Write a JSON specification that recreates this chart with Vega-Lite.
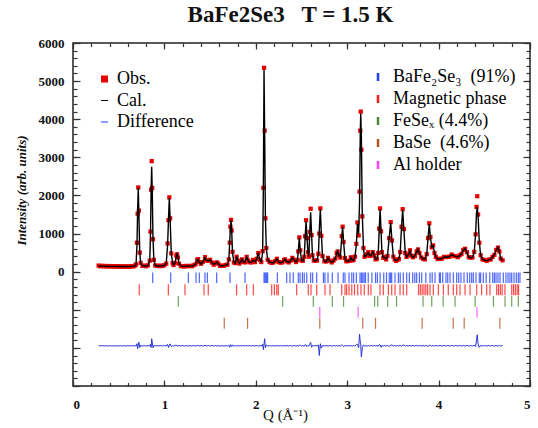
{
"$schema": "https://vega.github.io/schema/vega-lite/v6.json",
"width": 457, "height": 343,
"autosize": {"type": "none"},
"padding": {"left": 73, "top": 43, "right": 8, "bottom": 42},
"background": "white",
"config": {
  "view": {"stroke": "#222", "strokeWidth": 1.5},
  "axis": {"grid": false, "domain": false, "tickColor": "#333", "tickWidth": 1.2, "labelFont": "Liberation Serif, Times New Roman, Times, serif", "labelFontWeight": "bold", "labelFontSize": 13, "labelColor": "#111", "titleColor": "#111"},
  "legend": {"labelFont": "Liberation Serif, Times New Roman, Times, serif", "labelFontSize": 18, "labelColor": "#000", "padding": 0, "title": null}
},
"title": {"text": "BaFe2Se3\u00a0\u00a0 T = 1.5 K", "font": "Liberation Serif, Times New Roman, Times, serif", "fontSize": 23, "fontWeight": "bold", "color": "#111", "anchor": "middle", "baseline": "alphabetic", "offset": 10, "dy": 18, "dx": -11},
"datasets": {
"pattern": [
{"q":0.28,"cal":150,"obs":160,"diff":-1940},{"q":0.30,"cal":148,"obs":140,"diff":-1948},{"q":0.32,"cal":146,"obs":155,"diff":-1938},{"q":0.34,"cal":145,"obs":138,"diff":-1950},{"q":0.36,"cal":143,"obs":150,"diff":-1942},{"q":0.38,"cal":142,"obs":135,"diff":-1952},{"q":0.40,"cal":140,"obs":148,"diff":-1940},{"q":0.42,"cal":140,"obs":132,"diff":-1950},{"q":0.44,"cal":139,"obs":146,"diff":-1944},{"q":0.46,"cal":138,"obs":130,"diff":-1952},{"q":0.48,"cal":138,"obs":145,"diff":-1942},{"q":0.50,"cal":137,"obs":131,"diff":-1950},{"q":0.52,"cal":136,"obs":143,"diff":-1940},{"q":0.54,"cal":136,"obs":128,"diff":-1953},{"q":0.56,"cal":135,"obs":142,"diff":-1943},{"q":0.58,"cal":135,"obs":130,"diff":-1950},{"q":0.60,"cal":135,"obs":141,"diff":-1941},{"q":0.62,"cal":136,"obs":129,"diff":-1951},{"q":0.64,"cal":138,"obs":145,"diff":-1942},{"q":0.66,"cal":142,"obs":136,"diff":-1950},{"q":0.68,"cal":150,"obs":160,"diff":-1938},{"q":0.69,"cal":200,"obs":190,"diff":-1955},{"q":0.70,"cal":700,"obs":760,"diff":-1890},{"q":0.707,"cal":1600,"obs":1520,"diff":-2020},{"q":0.714,"cal":2200,"obs":2210,"diff":-1935},{"q":0.721,"cal":1500,"obs":1600,"diff":-1850},{"q":0.73,"cal":550,"obs":500,"diff":-1990},{"q":0.74,"cal":220,"obs":230,"diff":-1935},{"q":0.76,"cal":160,"obs":152,"diff":-1950},{"q":0.78,"cal":150,"obs":158,"diff":-1940},{"q":0.80,"cal":150,"obs":143,"diff":-1952},{"q":0.82,"cal":160,"obs":168,"diff":-1938},{"q":0.84,"cal":300,"obs":290,"diff":-1955},{"q":0.848,"cal":1000,"obs":1050,"diff":-1900},{"q":0.855,"cal":2200,"obs":2150,"diff":-1990},{"q":0.861,"cal":2750,"obs":2900,"diff":-1760},{"q":0.867,"cal":2100,"obs":2200,"diff":-1850},{"q":0.875,"cal":900,"obs":850,"diff":-1995},{"q":0.885,"cal":300,"obs":310,"diff":-1935},{"q":0.90,"cal":170,"obs":162,"diff":-1950},{"q":0.92,"cal":150,"obs":157,"diff":-1940},{"q":0.94,"cal":150,"obs":144,"diff":-1950},{"q":0.96,"cal":150,"obs":158,"diff":-1938},{"q":0.98,"cal":155,"obs":149,"diff":-1950},{"q":1.00,"cal":165,"obs":172,"diff":-1940},{"q":1.02,"cal":220,"obs":212,"diff":-1952},{"q":1.035,"cal":700,"obs":740,"diff":-1905},{"q":1.045,"cal":1400,"obs":1350,"diff":-1990},{"q":1.054,"cal":1930,"obs":1950,"diff":-1925},{"q":1.063,"cal":1350,"obs":1400,"diff":-1895},{"q":1.075,"cal":500,"obs":480,"diff":-1965},{"q":1.09,"cal":220,"obs":226,"diff":-1940},{"q":1.10,"cal":180,"obs":174,"diff":-1950},{"q":1.115,"cal":220,"obs":228,"diff":-1938},{"q":1.13,"cal":400,"obs":420,"diff":-1925},{"q":1.138,"cal":460,"obs":455,"diff":-1950},{"q":1.148,"cal":380,"obs":372,"diff":-1952},{"q":1.16,"cal":200,"obs":208,"diff":-1938},{"q":1.18,"cal":150,"obs":144,"diff":-1950},{"q":1.20,"cal":140,"obs":147,"diff":-1940},{"q":1.22,"cal":140,"obs":133,"diff":-1952},{"q":1.24,"cal":145,"obs":152,"diff":-1940},{"q":1.26,"cal":150,"obs":144,"diff":-1950},{"q":1.28,"cal":145,"obs":152,"diff":-1940},{"q":1.30,"cal":150,"obs":143,"diff":-1952},{"q":1.32,"cal":160,"obs":168,"diff":-1938},{"q":1.34,"cal":200,"obs":193,"diff":-1952},{"q":1.36,"cal":300,"obs":310,"diff":-1935},{"q":1.368,"cal":320,"obs":328,"diff":-1938},{"q":1.38,"cal":260,"obs":252,"diff":-1952},{"q":1.40,"cal":200,"obs":208,"diff":-1938},{"q":1.42,"cal":260,"obs":252,"diff":-1952},{"q":1.444,"cal":370,"obs":380,"diff":-1935},{"q":1.46,"cal":300,"obs":292,"diff":-1952},{"q":1.48,"cal":280,"obs":288,"diff":-1938},{"q":1.50,"cal":320,"obs":312,"diff":-1952},{"q":1.52,"cal":230,"obs":238,"diff":-1938},{"q":1.54,"cal":190,"obs":183,"diff":-1952},{"q":1.56,"cal":220,"obs":228,"diff":-1938},{"q":1.575,"cal":250,"obs":243,"diff":-1952},{"q":1.59,"cal":200,"obs":207,"diff":-1940},{"q":1.61,"cal":160,"obs":153,"diff":-1952},{"q":1.63,"cal":150,"obs":157,"diff":-1940},{"q":1.65,"cal":160,"obs":153,"diff":-1952},{"q":1.67,"cal":170,"obs":177,"diff":-1940},{"q":1.69,"cal":190,"obs":184,"diff":-1950},{"q":1.705,"cal":300,"obs":320,"diff":-1928},{"q":1.715,"cal":800,"obs":760,"diff":-1985},{"q":1.722,"cal":1150,"obs":1180,"diff":-1915},{"q":1.729,"cal":1340,"obs":1360,"diff":-1925},{"q":1.736,"cal":1100,"obs":1080,"diff":-1965},{"q":1.745,"cal":500,"obs":520,"diff":-1925},{"q":1.76,"cal":250,"obs":243,"diff":-1952},{"q":1.775,"cal":220,"obs":227,"diff":-1940},{"q":1.79,"cal":400,"obs":392,"diff":-1952},{"q":1.805,"cal":280,"obs":288,"diff":-1938},{"q":1.82,"cal":220,"obs":213,"diff":-1952},{"q":1.835,"cal":260,"obs":267,"diff":-1940},{"q":1.85,"cal":330,"obs":322,"diff":-1952},{"q":1.865,"cal":250,"obs":258,"diff":-1938},{"q":1.88,"cal":250,"obs":243,"diff":-1952},{"q":1.90,"cal":380,"obs":388,"diff":-1938},{"q":1.915,"cal":300,"obs":292,"diff":-1952},{"q":1.93,"cal":240,"obs":248,"diff":-1938},{"q":1.95,"cal":250,"obs":243,"diff":-1952},{"q":1.97,"cal":300,"obs":308,"diff":-1938},{"q":1.99,"cal":260,"obs":252,"diff":-1952},{"q":2.01,"cal":330,"obs":338,"diff":-1938},{"q":2.027,"cal":500,"obs":490,"diff":-1955},{"q":2.045,"cal":300,"obs":308,"diff":-1938},{"q":2.06,"cal":260,"obs":252,"diff":-1952},{"q":2.075,"cal":500,"obs":540,"diff":-1905},{"q":2.083,"cal":2300,"obs":2200,"diff":-2045},{"q":2.09,"cal":5300,"obs":5350,"diff":-1895},{"q":2.097,"cal":3600,"obs":3700,"diff":-1760},{"q":2.105,"cal":1450,"obs":1400,"diff":-1995},{"q":2.115,"cal":600,"obs":620,"diff":-1925},{"q":2.13,"cal":320,"obs":312,"diff":-1952},{"q":2.15,"cal":250,"obs":258,"diff":-1938},{"q":2.17,"cal":240,"obs":232,"diff":-1952},{"q":2.19,"cal":230,"obs":238,"diff":-1940},{"q":2.21,"cal":280,"obs":272,"diff":-1952},{"q":2.23,"cal":330,"obs":338,"diff":-1938},{"q":2.25,"cal":260,"obs":252,"diff":-1952},{"q":2.27,"cal":230,"obs":238,"diff":-1940},{"q":2.29,"cal":250,"obs":243,"diff":-1952},{"q":2.31,"cal":300,"obs":308,"diff":-1938},{"q":2.32,"cal":330,"obs":322,"diff":-1952},{"q":2.34,"cal":260,"obs":268,"diff":-1938},{"q":2.36,"cal":250,"obs":243,"diff":-1952},{"q":2.38,"cal":280,"obs":287,"diff":-1938},{"q":2.40,"cal":370,"obs":362,"diff":-1952},{"q":2.42,"cal":300,"obs":308,"diff":-1938},{"q":2.44,"cal":260,"obs":253,"diff":-1952},{"q":2.455,"cal":300,"obs":310,"diff":-1935},{"q":2.465,"cal":550,"obs":530,"diff":-1965},{"q":2.476,"cal":880,"obs":900,"diff":-1925},{"q":2.487,"cal":550,"obs":560,"diff":-1935},{"q":2.50,"cal":300,"obs":293,"diff":-1952},{"q":2.515,"cal":280,"obs":287,"diff":-1940},{"q":2.53,"cal":400,"obs":390,"diff":-1955},{"q":2.54,"cal":900,"obs":930,"diff":-1915},{"q":2.55,"cal":1330,"obs":1350,"diff":-1925},{"q":2.56,"cal":900,"obs":880,"diff":-1965},{"q":2.57,"cal":500,"obs":510,"diff":-1935},{"q":2.58,"cal":400,"obs":392,"diff":-1952},{"q":2.59,"cal":1000,"obs":1040,"diff":-1905},{"q":2.60,"cal":1560,"obs":1650,"diff":-1855},{"q":2.61,"cal":1000,"obs":960,"diff":-1985},{"q":2.62,"cal":420,"obs":430,"diff":-1935},{"q":2.635,"cal":300,"obs":293,"diff":-1952},{"q":2.65,"cal":280,"obs":288,"diff":-1938},{"q":2.67,"cal":300,"obs":293,"diff":-1952},{"q":2.685,"cal":450,"obs":470,"diff":-1925},{"q":2.695,"cal":1100,"obs":1000,"diff":-2200},{"q":2.706,"cal":1640,"obs":1660,"diff":-1890},{"q":2.717,"cal":1000,"obs":940,"diff":-2005},{"q":2.73,"cal":400,"obs":410,"diff":-1935},{"q":2.75,"cal":280,"obs":273,"diff":-1952},{"q":2.77,"cal":260,"obs":268,"diff":-1938},{"q":2.79,"cal":370,"obs":362,"diff":-1952},{"q":2.81,"cal":280,"obs":288,"diff":-1938},{"q":2.83,"cal":250,"obs":243,"diff":-1952},{"q":2.85,"cal":280,"obs":288,"diff":-1938},{"q":2.87,"cal":350,"obs":342,"diff":-1952},{"q":2.885,"cal":480,"obs":490,"diff":-1935},{"q":2.896,"cal":540,"obs":530,"diff":-1952},{"q":2.91,"cal":420,"obs":428,"diff":-1938},{"q":2.925,"cal":380,"obs":370,"diff":-1955},{"q":2.94,"cal":900,"obs":930,"diff":-1915},{"q":2.95,"cal":1170,"obs":1180,"diff":-1935},{"q":2.96,"cal":800,"obs":780,"diff":-1965},{"q":2.975,"cal":350,"obs":358,"diff":-1938},{"q":2.99,"cal":280,"obs":272,"diff":-1952},{"q":3.01,"cal":270,"obs":278,"diff":-1938},{"q":3.03,"cal":300,"obs":292,"diff":-1952},{"q":3.04,"cal":370,"obs":378,"diff":-1938},{"q":3.055,"cal":300,"obs":292,"diff":-1952},{"q":3.07,"cal":300,"obs":308,"diff":-1938},{"q":3.085,"cal":400,"obs":392,"diff":-1952},{"q":3.10,"cal":700,"obs":730,"diff":-1915},{"q":3.112,"cal":1250,"obs":1290,"diff":-1905},{"q":3.125,"cal":1000,"obs":950,"diff":-1995},{"q":3.135,"cal":1800,"obs":2100,"diff":-1640},{"q":3.143,"cal":3600,"obs":3700,"diff":-1845},{"q":3.148,"cal":4150,"obs":4200,"diff":-1895},{"q":3.155,"cal":3500,"obs":3200,"diff":-2240},{"q":3.165,"cal":1500,"obs":1450,"diff":-1995},{"q":3.178,"cal":600,"obs":620,"diff":-1925},{"q":3.19,"cal":400,"obs":392,"diff":-1952},{"q":3.205,"cal":420,"obs":428,"diff":-1938},{"q":3.22,"cal":470,"obs":460,"diff":-1955},{"q":3.23,"cal":500,"obs":510,"diff":-1935},{"q":3.245,"cal":420,"obs":412,"diff":-1952},{"q":3.26,"cal":420,"obs":428,"diff":-1938},{"q":3.28,"cal":520,"obs":512,"diff":-1952},{"q":3.295,"cal":420,"obs":428,"diff":-1938},{"q":3.31,"cal":330,"obs":322,"diff":-1952},{"q":3.325,"cal":330,"obs":338,"diff":-1938},{"q":3.34,"cal":500,"obs":490,"diff":-1955},{"q":3.35,"cal":1100,"obs":1130,"diff":-1915},{"q":3.36,"cal":1640,"obs":1660,"diff":-1925},{"q":3.37,"cal":1100,"obs":1060,"diff":-1985},{"q":3.38,"cal":500,"obs":510,"diff":-1935},{"q":3.395,"cal":370,"obs":362,"diff":-1952},{"q":3.41,"cal":380,"obs":388,"diff":-1938},{"q":3.425,"cal":330,"obs":322,"diff":-1952},{"q":3.44,"cal":400,"obs":410,"diff":-1935},{"q":3.46,"cal":900,"obs":880,"diff":-1965},{"q":3.476,"cal":1280,"obs":1300,"diff":-1925},{"q":3.49,"cal":800,"obs":820,"diff":-1925},{"q":3.505,"cal":400,"obs":392,"diff":-1952},{"q":3.52,"cal":310,"obs":318,"diff":-1938},{"q":3.535,"cal":290,"obs":283,"diff":-1952},{"q":3.55,"cal":300,"obs":308,"diff":-1938},{"q":3.565,"cal":340,"obs":332,"diff":-1952},{"q":3.58,"cal":500,"obs":515,"diff":-1930},{"q":3.595,"cal":1200,"obs":1180,"diff":-1965},{"q":3.607,"cal":1620,"obs":1640,"diff":-1925},{"q":3.62,"cal":1100,"obs":1120,"diff":-1925},{"q":3.635,"cal":500,"obs":490,"diff":-1955},{"q":3.65,"cal":380,"obs":388,"diff":-1938},{"q":3.67,"cal":450,"obs":442,"diff":-1952},{"q":3.687,"cal":550,"obs":560,"diff":-1935},{"q":3.70,"cal":430,"obs":422,"diff":-1952},{"q":3.72,"cal":370,"obs":378,"diff":-1938},{"q":3.74,"cal":420,"obs":412,"diff":-1952},{"q":3.76,"cal":520,"obs":530,"diff":-1935},{"q":3.775,"cal":590,"obs":582,"diff":-1952},{"q":3.79,"cal":480,"obs":488,"diff":-1938},{"q":3.81,"cal":380,"obs":372,"diff":-1952},{"q":3.83,"cal":330,"obs":338,"diff":-1938},{"q":3.85,"cal":330,"obs":322,"diff":-1952},{"q":3.87,"cal":450,"obs":460,"diff":-1935},{"q":3.885,"cal":900,"obs":880,"diff":-1965},{"q":3.898,"cal":1250,"obs":1270,"diff":-1925},{"q":3.91,"cal":900,"obs":910,"diff":-1935},{"q":3.925,"cal":650,"obs":640,"diff":-1955},{"q":3.94,"cal":680,"obs":690,"diff":-1935},{"q":3.955,"cal":500,"obs":492,"diff":-1952},{"q":3.97,"cal":380,"obs":388,"diff":-1938},{"q":3.99,"cal":340,"obs":332,"diff":-1952},{"q":4.015,"cal":330,"obs":338,"diff":-1938},{"q":4.035,"cal":350,"obs":342,"diff":-1952},{"q":4.06,"cal":380,"obs":388,"diff":-1938},{"q":4.08,"cal":390,"obs":382,"diff":-1952},{"q":4.10,"cal":380,"obs":388,"diff":-1938},{"q":4.12,"cal":400,"obs":392,"diff":-1952},{"q":4.143,"cal":440,"obs":448,"diff":-1938},{"q":4.165,"cal":420,"obs":412,"diff":-1952},{"q":4.185,"cal":400,"obs":408,"diff":-1938},{"q":4.21,"cal":390,"obs":382,"diff":-1952},{"q":4.23,"cal":420,"obs":428,"diff":-1938},{"q":4.25,"cal":470,"obs":462,"diff":-1952},{"q":4.27,"cal":560,"obs":570,"diff":-1935},{"q":4.29,"cal":610,"obs":600,"diff":-1955},{"q":4.31,"cal":500,"obs":510,"diff":-1935},{"q":4.33,"cal":390,"obs":382,"diff":-1952},{"q":4.35,"cal":360,"obs":368,"diff":-1938},{"q":4.37,"cal":380,"obs":372,"diff":-1952},{"q":4.39,"cal":500,"obs":520,"diff":-1925},{"q":4.405,"cal":1000,"obs":980,"diff":-1965},{"q":4.415,"cal":1550,"obs":1700,"diff":-1790},{"q":4.423,"cal":1690,"obs":1980,"diff":-1655},{"q":4.432,"cal":1450,"obs":1500,"diff":-1895},{"q":4.445,"cal":800,"obs":760,"diff":-1985},{"q":4.46,"cal":420,"obs":430,"diff":-1935},{"q":4.48,"cal":330,"obs":322,"diff":-1952},{"q":4.50,"cal":300,"obs":308,"diff":-1938},{"q":4.526,"cal":290,"obs":282,"diff":-1952},{"q":4.55,"cal":310,"obs":318,"diff":-1938},{"q":4.57,"cal":330,"obs":322,"diff":-1952},{"q":4.59,"cal":380,"obs":388,"diff":-1938},{"q":4.61,"cal":450,"obs":440,"diff":-1955},{"q":4.63,"cal":560,"obs":570,"diff":-1935},{"q":4.65,"cal":640,"obs":630,"diff":-1955},{"q":4.665,"cal":520,"obs":530,"diff":-1935},{"q":4.68,"cal":350,"obs":342,"diff":-1952},{"q":4.70,"cal":290,"obs":298,"diff":-1938}
],
"phases": [
{"phase":"BaFe₂Se₃\u00a0 (91%)","ytop":-20,"ybot":-300},
{"phase":"Magnetic phase","ytop":-330,"ybot":-620},
{"phase":"FeSeₓ (4.4%)","ytop":-640,"ybot":-920},
{"phase":"BaSe\u00a0 (4.6%)","ytop":-1210,"ybot":-1500},
{"phase":"Al holder","ytop":-930,"ybot":-1200}
],
"bragg": [
{"phase":"BaFe₂Se₃\u00a0 (91%)","q":0.872},{"phase":"BaFe₂Se₃\u00a0 (91%)","q":1.069},{"phase":"BaFe₂Se₃\u00a0 (91%)","q":1.262},{"phase":"BaFe₂Se₃\u00a0 (91%)","q":1.346},{"phase":"BaFe₂Se₃\u00a0 (91%)","q":1.382},{"phase":"BaFe₂Se₃\u00a0 (91%)","q":1.444},{"phase":"BaFe₂Se₃\u00a0 (91%)","q":1.47},{"phase":"BaFe₂Se₃\u00a0 (91%)","q":1.572},{"phase":"BaFe₂Se₃\u00a0 (91%)","q":1.718},{"phase":"BaFe₂Se₃\u00a0 (91%)","q":1.882},{"phase":"BaFe₂Se₃\u00a0 (91%)","q":2.09},{"phase":"BaFe₂Se₃\u00a0 (91%)","q":2.1},{"phase":"BaFe₂Se₃\u00a0 (91%)","q":2.11},{"phase":"BaFe₂Se₃\u00a0 (91%)","q":2.12},{"phase":"BaFe₂Se₃\u00a0 (91%)","q":2.13},{"phase":"BaFe₂Se₃\u00a0 (91%)","q":2.236},{"phase":"BaFe₂Se₃\u00a0 (91%)","q":2.338},{"phase":"BaFe₂Se₃\u00a0 (91%)","q":2.374},{"phase":"BaFe₂Se₃\u00a0 (91%)","q":2.41},{"phase":"BaFe₂Se₃\u00a0 (91%)","q":2.465},{"phase":"BaFe₂Se₃\u00a0 (91%)","q":2.484},{"phase":"BaFe₂Se₃\u00a0 (91%)","q":2.51},{"phase":"BaFe₂Se₃\u00a0 (91%)","q":2.53},{"phase":"BaFe₂Se₃\u00a0 (91%)","q":2.557},{"phase":"BaFe₂Se₃\u00a0 (91%)","q":2.6},{"phase":"BaFe₂Se₃\u00a0 (91%)","q":2.622},{"phase":"BaFe₂Se₃\u00a0 (91%)","q":2.666},{"phase":"BaFe₂Se₃\u00a0 (91%)","q":2.74},{"phase":"BaFe₂Se₃\u00a0 (91%)","q":2.757},{"phase":"BaFe₂Se₃\u00a0 (91%)","q":2.79},{"phase":"BaFe₂Se₃\u00a0 (91%)","q":2.837},{"phase":"BaFe₂Se₃\u00a0 (91%)","q":2.9},{"phase":"BaFe₂Se₃\u00a0 (91%)","q":2.957},{"phase":"BaFe₂Se₃\u00a0 (91%)","q":2.976},{"phase":"BaFe₂Se₃\u00a0 (91%)","q":3.02},{"phase":"BaFe₂Se₃\u00a0 (91%)","q":3.05},{"phase":"BaFe₂Se₃\u00a0 (91%)","q":3.07},{"phase":"BaFe₂Se₃\u00a0 (91%)","q":3.1},{"phase":"BaFe₂Se₃\u00a0 (91%)","q":3.14},{"phase":"BaFe₂Se₃\u00a0 (91%)","q":3.155},{"phase":"BaFe₂Se₃\u00a0 (91%)","q":3.17},{"phase":"BaFe₂Se₃\u00a0 (91%)","q":3.185},{"phase":"BaFe₂Se₃\u00a0 (91%)","q":3.2},{"phase":"BaFe₂Se₃\u00a0 (91%)","q":3.23},{"phase":"BaFe₂Se₃\u00a0 (91%)","q":3.27},{"phase":"BaFe₂Se₃\u00a0 (91%)","q":3.31},{"phase":"BaFe₂Se₃\u00a0 (91%)","q":3.33},{"phase":"BaFe₂Se₃\u00a0 (91%)","q":3.36},{"phase":"BaFe₂Se₃\u00a0 (91%)","q":3.4},{"phase":"BaFe₂Se₃\u00a0 (91%)","q":3.43},{"phase":"BaFe₂Se₃\u00a0 (91%)","q":3.46},{"phase":"BaFe₂Se₃\u00a0 (91%)","q":3.475},{"phase":"BaFe₂Se₃\u00a0 (91%)","q":3.487},{"phase":"BaFe₂Se₃\u00a0 (91%)","q":3.523},{"phase":"BaFe₂Se₃\u00a0 (91%)","q":3.56},{"phase":"BaFe₂Se₃\u00a0 (91%)","q":3.58},{"phase":"BaFe₂Se₃\u00a0 (91%)","q":3.614},{"phase":"BaFe₂Se₃\u00a0 (91%)","q":3.651},{"phase":"BaFe₂Se₃\u00a0 (91%)","q":3.68},{"phase":"BaFe₂Se₃\u00a0 (91%)","q":3.717},{"phase":"BaFe₂Se₃\u00a0 (91%)","q":3.74},{"phase":"BaFe₂Se₃\u00a0 (91%)","q":3.76},{"phase":"BaFe₂Se₃\u00a0 (91%)","q":3.79},{"phase":"BaFe₂Se₃\u00a0 (91%)","q":3.815},{"phase":"BaFe₂Se₃\u00a0 (91%)","q":3.86},{"phase":"BaFe₂Se₃\u00a0 (91%)","q":3.906},{"phase":"BaFe₂Se₃\u00a0 (91%)","q":3.93},{"phase":"BaFe₂Se₃\u00a0 (91%)","q":3.961},{"phase":"BaFe₂Se₃\u00a0 (91%)","q":4.008},{"phase":"BaFe₂Se₃\u00a0 (91%)","q":4.02},{"phase":"BaFe₂Se₃\u00a0 (91%)","q":4.045},{"phase":"BaFe₂Se₃\u00a0 (91%)","q":4.081},{"phase":"BaFe₂Se₃\u00a0 (91%)","q":4.1},{"phase":"BaFe₂Se₃\u00a0 (91%)","q":4.125},{"phase":"BaFe₂Se₃\u00a0 (91%)","q":4.161},{"phase":"BaFe₂Se₃\u00a0 (91%)","q":4.198},{"phase":"BaFe₂Se₃\u00a0 (91%)","q":4.22},{"phase":"BaFe₂Se₃\u00a0 (91%)","q":4.245},{"phase":"BaFe₂Se₃\u00a0 (91%)","q":4.278},{"phase":"BaFe₂Se₃\u00a0 (91%)","q":4.314},{"phase":"BaFe₂Se₃\u00a0 (91%)","q":4.34},{"phase":"BaFe₂Se₃\u00a0 (91%)","q":4.362},{"phase":"BaFe₂Se₃\u00a0 (91%)","q":4.38},{"phase":"BaFe₂Se₃\u00a0 (91%)","q":4.409},{"phase":"BaFe₂Se₃\u00a0 (91%)","q":4.445},{"phase":"BaFe₂Se₃\u00a0 (91%)","q":4.46},{"phase":"BaFe₂Se₃\u00a0 (91%)","q":4.489},{"phase":"BaFe₂Se₃\u00a0 (91%)","q":4.52},{"phase":"BaFe₂Se₃\u00a0 (91%)","q":4.56},{"phase":"BaFe₂Se₃\u00a0 (91%)","q":4.592},{"phase":"BaFe₂Se₃\u00a0 (91%)","q":4.61},{"phase":"BaFe₂Se₃\u00a0 (91%)","q":4.628},{"phase":"BaFe₂Se₃\u00a0 (91%)","q":4.65},{"phase":"BaFe₂Se₃\u00a0 (91%)","q":4.672},{"phase":"BaFe₂Se₃\u00a0 (91%)","q":4.708},{"phase":"BaFe₂Se₃\u00a0 (91%)","q":4.737},{"phase":"BaFe₂Se₃\u00a0 (91%)","q":4.76},{"phase":"BaFe₂Se₃\u00a0 (91%)","q":4.781},{"phase":"BaFe₂Se₃\u00a0 (91%)","q":4.8},{"phase":"BaFe₂Se₃\u00a0 (91%)","q":4.825},{"phase":"BaFe₂Se₃\u00a0 (91%)","q":4.85},{"phase":"BaFe₂Se₃\u00a0 (91%)","q":4.872},{"phase":"BaFe₂Se₃\u00a0 (91%)","q":4.89},
{"phase":"Magnetic phase","q":0.725},{"phase":"Magnetic phase","q":1.043},{"phase":"Magnetic phase","q":1.225},{"phase":"Magnetic phase","q":1.433},{"phase":"Magnetic phase","q":1.48},{"phase":"Magnetic phase","q":1.79},{"phase":"Magnetic phase","q":1.9},{"phase":"Magnetic phase","q":1.973},{"phase":"Magnetic phase","q":2.174},{"phase":"Magnetic phase","q":2.203},{"phase":"Magnetic phase","q":2.229},{"phase":"Magnetic phase","q":2.246},{"phase":"Magnetic phase","q":2.447},{"phase":"Magnetic phase","q":2.574},{"phase":"Magnetic phase","q":2.604},{"phase":"Magnetic phase","q":2.666},{"phase":"Magnetic phase","q":2.757},{"phase":"Magnetic phase","q":2.812},{"phase":"Magnetic phase","q":2.94},{"phase":"Magnetic phase","q":2.976},{"phase":"Magnetic phase","q":2.994},{"phase":"Magnetic phase","q":3.02},{"phase":"Magnetic phase","q":3.05},{"phase":"Magnetic phase","q":3.08},{"phase":"Magnetic phase","q":3.115},{"phase":"Magnetic phase","q":3.151},{"phase":"Magnetic phase","q":3.187},{"phase":"Magnetic phase","q":3.231},{"phase":"Magnetic phase","q":3.26},{"phase":"Magnetic phase","q":3.359},{"phase":"Magnetic phase","q":3.395},{"phase":"Magnetic phase","q":3.45},{"phase":"Magnetic phase","q":3.487},{"phase":"Magnetic phase","q":3.523},{"phase":"Magnetic phase","q":3.578},{"phase":"Magnetic phase","q":3.614},{"phase":"Magnetic phase","q":3.651},{"phase":"Magnetic phase","q":3.78},{"phase":"Magnetic phase","q":3.8},{"phase":"Magnetic phase","q":3.82},{"phase":"Magnetic phase","q":3.84},{"phase":"Magnetic phase","q":3.86},{"phase":"Magnetic phase","q":3.88},{"phase":"Magnetic phase","q":3.906},{"phase":"Magnetic phase","q":3.942},{"phase":"Magnetic phase","q":3.997},{"phase":"Magnetic phase","q":4.052},{"phase":"Magnetic phase","q":4.106},{"phase":"Magnetic phase","q":4.161},{"phase":"Magnetic phase","q":4.198},{"phase":"Magnetic phase","q":4.234},{"phase":"Magnetic phase","q":4.289},{"phase":"Magnetic phase","q":4.344},{"phase":"Magnetic phase","q":4.417},{"phase":"Magnetic phase","q":4.471},{"phase":"Magnetic phase","q":4.526},{"phase":"Magnetic phase","q":4.562},{"phase":"Magnetic phase","q":4.636},{"phase":"Magnetic phase","q":4.655},{"phase":"Magnetic phase","q":4.675},{"phase":"Magnetic phase","q":4.695},{"phase":"Magnetic phase","q":4.726},{"phase":"Magnetic phase","q":4.8},{"phase":"Magnetic phase","q":4.82},{"phase":"Magnetic phase","q":4.84},{"phase":"Magnetic phase","q":4.86},{"phase":"Magnetic phase","q":4.875},
{"phase":"FeSeₓ (4.4%)","q":1.152},{"phase":"FeSeₓ (4.4%)","q":2.294},{"phase":"FeSeₓ (4.4%)","q":2.629},{"phase":"FeSeₓ (4.4%)","q":2.837},{"phase":"FeSeₓ (4.4%)","q":2.96},{"phase":"FeSeₓ (4.4%)","q":3.3},{"phase":"FeSeₓ (4.4%)","q":3.334},{"phase":"FeSeₓ (4.4%)","q":3.443},{"phase":"FeSeₓ (4.4%)","q":3.54},{"phase":"FeSeₓ (4.4%)","q":3.83},{"phase":"FeSeₓ (4.4%)","q":3.925},{"phase":"FeSeₓ (4.4%)","q":4.05},{"phase":"FeSeₓ (4.4%)","q":4.18},{"phase":"FeSeₓ (4.4%)","q":4.4},{"phase":"FeSeₓ (4.4%)","q":4.6},{"phase":"FeSeₓ (4.4%)","q":4.727},{"phase":"FeSeₓ (4.4%)","q":4.8},{"phase":"FeSeₓ (4.4%)","q":4.872},
{"phase":"BaSe\u00a0 (4.6%)","q":1.655},{"phase":"BaSe\u00a0 (4.6%)","q":1.91},{"phase":"BaSe\u00a0 (4.6%)","q":2.7},{"phase":"BaSe\u00a0 (4.6%)","q":3.17},{"phase":"BaSe\u00a0 (4.6%)","q":3.31},{"phase":"BaSe\u00a0 (4.6%)","q":3.82},{"phase":"BaSe\u00a0 (4.6%)","q":4.16},{"phase":"BaSe\u00a0 (4.6%)","q":4.28},{"phase":"BaSe\u00a0 (4.6%)","q":4.67},
{"phase":"Al holder","q":2.7},{"phase":"Al holder","q":3.12},{"phase":"Al holder","q":4.42}
]
},
"layer": [
{
 "data": {"name": "pattern"},
 "mark": {"type": "point", "filled": true, "size": 18, "opacity": 1},
 "encoding": {
  "x": {"field": "q", "type": "quantitative", "scale": {"domain": [0, 5], "nice": false, "zero": false},
        "axis": {"orient": "bottom", "values": [0,1,2,3,4,5], "format": "d", "tickSize": -6, "labelPadding": 18, "title": "Q (Å⁻¹)", "titleFont": "Liberation Serif, Times New Roman, Times, serif", "titleFontSize": 15, "titleFontWeight": "normal", "titleX": 212, "titleY": 28, "titleBaseline": "middle"}},
  "y": {"field": "obs", "type": "quantitative", "scale": {"domain": [-3000, 6000], "nice": false, "zero": false},
        "axis": {"orient": "left", "values": [-3000,-2000,-1000,0,1000,2000,3000,4000,5000,6000], "format": "d", "labelExpr": "datum.value >= 0 ? datum.label : ''", "tickSize": -7, "labelPadding": 16, "title": "Intensity (arb. units)", "titleFont": "Liberation Serif, Times New Roman, Times, serif", "titleFontSize": 13, "titleFontWeight": "bold", "titleFontStyle": "italic", "titleX": -52, "titleY": 147, "titleAngle": 270, "titleAlign": "center", "titleBaseline": "middle"}},
  "color": {"datum": "Obs.", "type": "nominal", "scale": {"domain": ["Obs.", "Cal.", "Difference"], "range": ["#e80000", "#000000", "#1a4cff"]},
            "legend": {"orient": "none", "legendX": 22.5, "legendY": 27, "symbolSize": 49, "labelOffset": 3.5, "rowPadding": 3.5, "symbolOpacity": 1}},
  "shape": {"datum": "Obs.", "type": "nominal", "scale": {"domain": ["Obs.", "Cal.", "Difference"], "range": ["square", "M-1,-0.15H1V0.15H-1Z", "M-1,-0.15H1V0.15H-1Z"]},
            "legend": {"orient": "none", "legendX": 22.5, "legendY": 27, "symbolSize": 49, "labelOffset": 3.5, "rowPadding": 3.5, "symbolOpacity": 1}}
 }
},
{
 "data": {"name": "pattern"},
 "mark": {"type": "line", "color": "#000000", "strokeWidth": 1.4},
 "encoding": {
  "x": {"field": "q", "type": "quantitative", "scale": {"domain": [0, 5], "nice": false, "zero": false},
        "axis": {"orient": "bottom", "values": [0,0.2,0.4,0.6,0.8,1,1.2,1.4,1.6,1.8,2,2.2,2.4,2.6,2.8,3,3.2,3.4,3.6,3.8,4,4.2,4.4,4.6,4.8,5], "labels": false, "tickSize": -3.5, "title": null}},
  "y": {"field": "cal", "type": "quantitative", "scale": {"domain": [-3000, 6000], "nice": false, "zero": false},
        "axis": {"orient": "left", "values": [-3000,-2800,-2600,-2400,-2200,-2000,-1800,-1600,-1400,-1200,-1000,-800,-600,-400,-200,0,200,400,600,800,1000,1200,1400,1600,1800,2000,2200,2400,2600,2800,3000,3200,3400,3600,3800,4000,4200,4400,4600,4800,5000,5200,5400,5600,5800,6000], "labels": false, "tickSize": -4, "title": null}}
 }
},
{
 "data": {"name": "pattern"},
 "mark": {"type": "line", "color": "#2a35d8", "strokeWidth": 1},
 "encoding": {
  "x": {"field": "q", "type": "quantitative", "scale": {"domain": [0, 5], "nice": false, "zero": false},
        "axis": {"orient": "top", "values": [0,1,2,3,4,5], "labels": false, "tickSize": -6, "title": null}},
  "y": {"field": "diff", "type": "quantitative", "scale": {"domain": [-3000, 6000], "nice": false, "zero": false},
        "axis": {"orient": "right", "values": [-3000,-2000,-1000,0,1000,2000,3000,4000,5000,6000], "labels": false, "tickSize": -7, "title": null}}
 }
},
{
 "data": {"name": "bragg"},
 "transform": [{"lookup": "phase", "from": {"data": {"name": "phases"}, "key": "phase", "fields": ["ytop", "ybot"]}}],
 "mark": {"type": "rule", "strokeWidth": 1.2, "opacity": 0.8},
 "encoding": {
  "x": {"field": "q", "type": "quantitative", "scale": {"domain": [0, 5], "nice": false, "zero": false},
        "axis": {"orient": "top", "values": [0,0.2,0.4,0.6,0.8,1,1.2,1.4,1.6,1.8,2,2.2,2.4,2.6,2.8,3,3.2,3.4,3.6,3.8,4,4.2,4.4,4.6,4.8,5], "labels": false, "tickSize": -3.5, "title": null}},
  "y": {"field": "ytop", "type": "quantitative", "scale": {"domain": [-3000, 6000], "nice": false, "zero": false},
        "axis": {"orient": "right", "values": [-3000,-2800,-2600,-2400,-2200,-2000,-1800,-1600,-1400,-1200,-1000,-800,-600,-400,-200,0,200,400,600,800,1000,1200,1400,1600,1800,2000,2200,2400,2600,2800,3000,3200,3400,3600,3800,4000,4200,4400,4600,4800,5000,5200,5400,5600,5800,6000], "labels": false, "tickSize": -4, "title": null}},
  "y2": {"field": "ybot"},
  "stroke": {"field": "phase", "type": "nominal",
             "scale": {"domain": ["BaFe₂Se₃\u00a0 (91%)", "Magnetic phase", "FeSeₓ (4.4%)", "BaSe\u00a0 (4.6%)", "Al holder"], "range": ["#1f3fff", "#ff1a1a", "#4f8a34", "#b5541c", "#ff3cff"]},
             "legend": {"orient": "none", "legendX": 296, "legendY": 25, "symbolType": "M0,-1V1", "symbolSize": 64, "symbolStrokeWidth": 2.5, "labelOffset": 6, "rowPadding": 4, "symbolOpacity": 1}}
 }
}
],
"resolve": {"axis": {"x": "independent", "y": "independent"}}
}
